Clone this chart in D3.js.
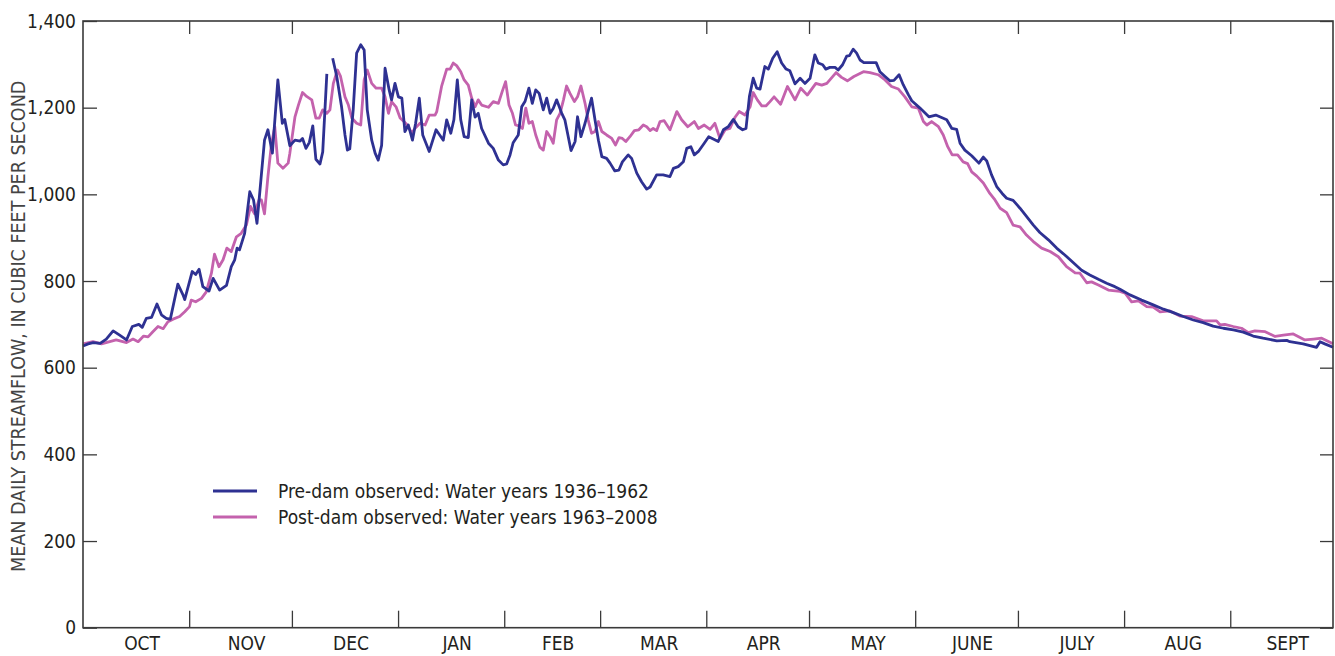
<!DOCTYPE html>
<html>
<head>
<meta charset="utf-8">
<script src="https://cdn.jsdelivr.net/npm/d3@7"></script>
<style>
  html, body { margin: 0; padding: 0; background: #fff; }
  svg { display: block; }
  .lbl { font-family: "Liberation Sans Narrow", "Arial Narrow", "DejaVu Sans Condensed", "Liberation Sans", sans-serif; fill: #231f20; }
</style>
</head>
<body>
<svg id="chart" width="1335" height="656"></svg>
<script>
// ---- Data ----
// day of water year (0 = Oct 1, 365 = Sept 30 end)
const months = ["OCT", "NOV", "DEC", "JAN", "FEB", "MAR", "APR", "MAY", "JUNE", "JULY", "AUG", "SEPT"];
const monthLengths = [31, 30, 31, 31, 28, 31, 30, 31, 30, 31, 31, 30];
const yTicks = [0, 200, 400, 600, 800, 1000, 1200, 1400];
const seriesNames = ["Pre-dam observed: Water years 1936\u20131962", "Post-dam observed: Water years 1963\u20132008"];

const preDays = [0,1.5,3,5,6.8,8.8,10.7,12.7,14.4,16.3,17.3,18.5,20,21.6,22.9,24.3,25.5,27.7,29.2,29.7,31.9,32.9,33.9,35,36.8,38,39.9,41.9,43.3,44.3,45,45.7,47.2,48.7,49.8,50.8,53,54,55.3,56.9,58.2,58.9,60.4,61.9,63.4,64.1,65.1,66.1,67.1,68,69.2,70,71.2,72,72.9,74.1,75.5,76.5,77.2,77.9,78.9,79.9,81.1,82.1,83,84.3,85.3,86.2,87.2,88.2,89.4,90.1,91.1,92.1,93.1,94,95,96.2,97.1,98.2,99.2,101.1,103.1,105.2,106.2,107.4,108.3,109.3,110.3,111.3,112.5,113.5,114.5,115.4,116.4,118.4,119.8,121.3,122.7,123.7,124.7,125.6,127.1,128.1,129.1,130.2,131.2,132.2,133.2,134.4,135.4,136.4,137.3,138.3,139.8,140.7,142.5,143.7,144.4,145.4,146.6,148.5,149.5,150.5,151.5,152.9,153.9,155.3,156.5,157.5,159.2,160.2,161.7,163.1,164.6,165.6,167.5,169.4,171.4,172.4,173.8,175.3,176.3,177.5,178.5,179.7,181.4,182.7,185.5,187,188.4,189.9,191.3,192.6,193.6,194.6,195.7,196.7,197.7,199.1,200.1,201.4,202.7,204,205.3,206.4,207.9,209.4,210.8,212.3,213.7,214.7,216,216.9,218.1,219.6,220.5,221.8,223,223.8,224.9,225.9,226.9,228,229.8,231.6,232.7,234.2,235.6,236.8,238.3,239.5,241,242,244.4,247,249,252.2,253.7,255.1,256.1,257.5,259.5,261.6,262.9,263.9,265.3,266.8,268.4,269.7,271.6,273.6,275.5,277.5,279.4,281.9,284.3,286.7,289.2,291.6,294,296.5,298.9,301.3,302.8,305.7,309.1,312.5,315.5,318.4,321.3,324.2,327.1,330,333,335.9,338.8,341.7,344.6,348.6,351.5,352.4,356.3,360.2,361.2,362.6,365];
const preFlow = [650,655,658,656,666,685,675,664,695,700,693,714,716,747,722,714,712,793,768,757,822,815,827,787,777,806,779,790,833,849,876,872,910,1006,987,933,1125,1149,1095,1264,1164,1173,1112,1125,1123,1129,1106,1120,1158,1081,1070,1098,1278,null,1314,1272,1202,1137,1102,1105,1195,1326,1345,1333,1195,1125,1095,1079,1113,1291,1241,1218,1256,1225,1222,1145,1160,1125,1163,1222,1137,1099,1149,1125,1172,1141,1172,1264,1172,1133,1131,1218,1178,1187,1152,1118,1106,1079,1068,1070,1091,1119,1137,1202,1215,1245,1210,1241,1233,1195,1222,1187,1198,1218,1187,1172,1101,1122,1179,1133,1164,1222,1172,1125,1087,1083,1072,1054,1056,1075,1091,1083,1049,1029,1012,1017,1045,1045,1041,1060,1064,1075,1106,1110,1091,1099,1118,1133,1122,1149,1156,1173,1156,1149,1152,1226,1268,1245,1243,1295,1289,1314,1329,1303,1289,1285,1255,1268,1256,1268,1322,1303,1299,1289,1293,1293,1287,1299,1319,1320,1335,1326,1310,1304,1304,1304,1283,1272,1262,1263,1276,1253,1230,1216,1199,1179,1183,1172,1152,1150,1118,1102,1089,1072,1086,1077,1045,1018,1002,991,986,968,949,929,912,895,876,860,842,825,814,804,795,787,781,768,756,745,735,727,718,710,704,696,691,687,682,673,668,662,663,660,655,647,660,655,647];

const postDays = [0,2.9,5.4,7.8,9.7,12.7,14.6,16.1,17.7,19,20.4,21.9,23.4,24.8,26.3,28.2,29.7,31.1,31.6,32.9,34.6,36,37.5,38.4,39.7,40.9,42,43.3,44.8,46.2,47.7,48.9,50.1,51.4,52.1,53,54,55,56,56.9,58.4,59.9,60.4,61.9,62.9,64.1,65.3,66.8,68,69,70,71.2,72.1,73.1,74.3,75.2,76.5,77.5,78.5,79.9,81.1,82.1,83,84.3,85.6,87.2,88.2,89.2,90.1,91.4,92.6,93.7,94.7,96,96.9,98.4,99.9,101.1,102.8,103.3,104.7,106.2,107.2,108.1,109.1,110.3,111.3,112.5,113.5,114.5,115.4,116.4,118.4,119.8,121.3,122.4,123.4,124.4,125.4,126.3,127.3,128.3,129.3,130.2,131.2,132.2,133.4,134.4,135.4,136.4,137.3,138.3,139.3,140.3,141.2,142.2,143.5,144.4,145.4,146.6,147.5,148.5,149.5,150.5,151.5,152.9,154.4,155.5,156.5,157.5,158.5,159.7,161,162.3,163.6,164.6,165.6,166.5,167.5,168.5,169.7,171.4,173.4,174.8,176.6,178.5,179.7,181.4,183.1,184.5,186,187.5,188.9,190.4,191.6,193.3,194.8,195.7,196.9,198.2,199.4,200.6,201.8,203.7,205.7,207.9,209.6,211.5,214,215.7,217.2,219.9,221.5,223.2,225.1,227.9,229.8,232.2,234.2,236.1,238.1,240,242,243.9,245.4,246.4,247.8,249.8,251.2,252.5,253.8,255.4,257,258.3,259.5,261,262.9,264.8,266.3,267.8,269.7,271.6,273.6,275.5,277.5,279.9,282.4,284.8,287.2,289.7,291.1,293.1,294.5,296.5,299.4,302.8,304.3,306.2,308.2,310.6,312.5,314.5,317.4,320.3,323.7,327.1,331,332,333.4,335.9,338.3,340.3,342.2,345.2,348.1,350.5,353.4,356.8,359.3,361.7,365];
const postFlow = [655,660,655,660,664,658,666,660,673,671,683,695,690,706,712,718,729,741,756,752,760,775,818,862,833,849,876,868,902,910,929,972,955,987,987,955,1041,1114,1156,1072,1060,1072,1095,1179,1206,1235,1226,1218,1176,1176,1195,1187,1195,1256,1287,1272,1225,1206,1176,1164,1160,1264,1287,1256,1245,1245,1225,1187,1214,1202,1176,1168,1160,1141,1152,1164,1160,1183,1183,1191,1249,1289,1289,1303,1297,1283,1264,1252,1222,1202,1218,1206,1201,1214,1210,1237,1260,1206,1187,1160,1158,1152,1199,1164,1168,1137,1109,1102,1145,1133,1118,1172,1187,1218,1250,1233,1214,1225,1250,1210,1172,1141,1145,1168,1145,1137,1129,1114,1131,1129,1122,1133,1147,1149,1160,1156,1147,1152,1147,1168,1170,1149,1191,1172,1156,1168,1152,1160,1150,1164,1129,1149,1152,1178,1191,1183,1202,1235,1218,1204,1204,1214,1225,1208,1249,1218,1245,1229,1256,1252,1256,1281,1270,1262,1272,1283,1281,1276,1264,1249,1243,1225,1202,1199,1168,1160,1168,1156,1137,1110,1091,1091,1075,1071,1052,1042,1026,1002,987,968,958,929,925,906,891,876,868,856,833,819,818,796,798,791,779,776,772,752,754,741,740,729,731,719,718,708,708,699,700,695,691,681,685,683,672,675,678,664,666,668,655];

// ---- Chart ----
const W = 1335, H = 656;
const margin = { left: 83, right: 2, top: 21, bottom: 28.3 };
const svg = d3.select("#chart");
const x = d3.scaleLinear().domain([0, 365]).range([margin.left, W - margin.right]);
const y = d3.scaleLinear().domain([0, 1400]).range([H - margin.bottom, margin.top]);

const frameColor = "#3a3a3a";
const blue = "#2e3192";
const magenta = "#c462ad";

// month boundaries
const bounds = [];
let acc = 0;
monthLengths.forEach(l => { acc += l; bounds.push(acc); });
const inner = bounds.slice(0, -1);

// Lines
function drawSeries(days, flow, color) {
  const data = days.map((d, i) => ({ d, v: flow[i] }));
  const line = d3.line()
    .defined(p => p.v != null)
    .x(p => x(p.d))
    .y(p => y(p.v));
  svg.append("path")
    .datum(data)
    .attr("fill", "none")
    .attr("stroke", color)
    .attr("stroke-width", 2.8)
    .attr("stroke-linejoin", "round")
    .attr("d", line);
}
drawSeries(postDays, postFlow, magenta);
drawSeries(preDays, preFlow, blue);

// Axes with inward ticks
const gL = svg.append("g").attr("transform", `translate(${x(0)},0)`)
  .call(d3.axisLeft(y).tickValues(yTicks).tickSize(-14).tickPadding(7).tickFormat(d3.format(",")));
const gR = svg.append("g").attr("transform", `translate(${x(365)},0)`)
  .call(d3.axisRight(y).tickValues(yTicks).tickSize(-13).tickFormat(""));
const gB = svg.append("g").attr("transform", `translate(0,${y(0)})`)
  .call(d3.axisBottom(x).tickValues(inner).tickSize(-17).tickFormat(""));
const gT = svg.append("g").attr("transform", `translate(0,${y(1400)})`)
  .call(d3.axisTop(x).tickValues(inner).tickSize(-13).tickFormat(""));
[gL, gR, gB, gT].forEach(g => {
  g.select(".domain").remove();
  g.selectAll(".tick line").attr("stroke", frameColor).attr("stroke-width", 1.3);
});
gL.selectAll(".tick text").attr("class", "lbl").style("font-size", "19px").attr("fill", "#231f20");

// Frame
svg.append("rect")
  .attr("x", x(0)).attr("y", y(1400))
  .attr("width", x(365) - x(0)).attr("height", y(0) - y(1400))
  .attr("fill", "none").attr("stroke", frameColor).attr("stroke-width", 1.6);

// Month labels
let start = 0;
months.forEach((m, i) => {
  const mid = start + monthLengths[i] / 2;
  svg.append("text").attr("class", "lbl")
    .attr("x", x(mid) + 6).attr("y", 650)
    .attr("text-anchor", "middle")
    .style("font-size", "19px")
    .text(m);
  start += monthLengths[i];
});

// Y axis title
svg.append("text").attr("class", "lbl")
  .attr("transform", `translate(25,${(y(0) + y(1400)) / 2 + 2}) rotate(-90)`)
  .attr("text-anchor", "middle")
  .style("font-size", "19.5px")
  .style("fill", "#444")
  .text("MEAN DAILY STREAMFLOW, IN CUBIC FEET PER SECOND");

// Legend
const legend = svg.append("g").attr("transform", "translate(213,491)");
[blue, magenta].forEach((c, i) => {
  legend.append("line")
    .attr("x1", 0).attr("x2", 44)
    .attr("y1", i * 26).attr("y2", i * 26)
    .attr("stroke", c).attr("stroke-width", 2.8);
  legend.append("text").attr("class", "lbl")
    .attr("x", 65).attr("y", i * 26 + 7)
    .style("font-size", "19px")
    .text(seriesNames[i]);
});
</script>
</body>
</html>
